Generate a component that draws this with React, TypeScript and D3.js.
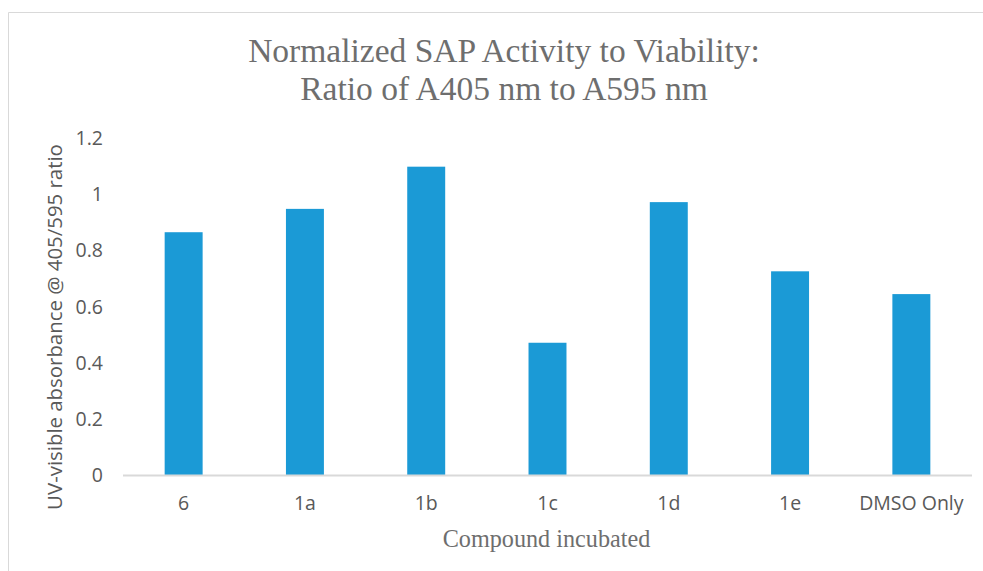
import React from "react";
import * as d3 from "d3";

const categories = ["6", "1a", "1b", "1c", "1d", "1e", "DMSO Only"];
const values = [0.865, 0.948, 1.098, 0.472, 0.972, 0.726, 0.645];
const yTicks = [0, 0.2, 0.4, 0.6, 0.8, 1, 1.2];
const titleLines = ["Normalized SAP Activity to Viability:", "Ratio of A405 nm to A595 nm"];
const xTitle = "Compound incubated";
const yTitle = "UV-visible absorbance @ 405/595 ratio";

const W = 983;
const H = 571;

export default function App() {
  const x = d3.scaleBand<string>().domain(categories).range([123, 972]).paddingInner(0.687).paddingOuter(0.3435);
  const y = d3.scaleLinear().domain([0, 1.2]).range([475.5, 138]);
  const sans = "'Open Sans', sans-serif";
  const serif = "'Times New Roman', 'Liberation Serif', serif";
  const grey = "#595959";
  const titleGrey = "#6e6e6e";
  return (
    <svg width={W} height={H} style={{ position: "absolute", left: 0, top: 0 }}>
      <rect x={0} y={0} width={W} height={H} fill="#fff" />
      <line x1={8.5} y1={12.5} x2={W} y2={12.5} stroke="#d9d9d9" strokeWidth={1} />
      <line x1={8.5} y1={12.5} x2={8.5} y2={H} stroke="#d9d9d9" strokeWidth={1} />
      {titleLines.map((t, i) => (
        <text key={i} x={504} y={62 + i * 38} textAnchor="middle" style={{ fontFamily: serif }} fontSize={33.5} fill={titleGrey}>
          {t}
        </text>
      ))}
      {values.map((v, i) => (
        <rect key={i} x={x(categories[i])} y={y(v)} width={x.bandwidth()} height={y(0) - y(v)} fill="#1B9AD6" />
      ))}
      <line x1={123} y1={y(0)} x2={972} y2={y(0)} stroke="#d9d9d9" strokeWidth={2} />
      {yTicks.map((t) => (
        <text key={t} x={103} y={y(t)} dy="0.35em" textAnchor="end" fontFamily={sans} fontSize={19.5} fill={grey}>
          {d3.format("~g")(t)}
        </text>
      ))}
      {categories.map((c) => (
        <text key={c} x={(x(c) as number) + x.bandwidth() / 2} y={503} dy="0.35em" textAnchor="middle" fontFamily={sans} fontSize={19.5} fill={grey}>
          {c}
        </text>
      ))}
      <text x={546.5} y={546.5} textAnchor="middle" style={{ fontFamily: serif }} fontSize={24.2} fill={titleGrey}>
        {xTitle}
      </text>
      <text transform={`translate(55,${327}) rotate(-90)`} dy="0.35em" textAnchor="middle" fontFamily={sans} fontSize={20.4} fill={grey}>
        {yTitle}
      </text>
    </svg>
  );
}
